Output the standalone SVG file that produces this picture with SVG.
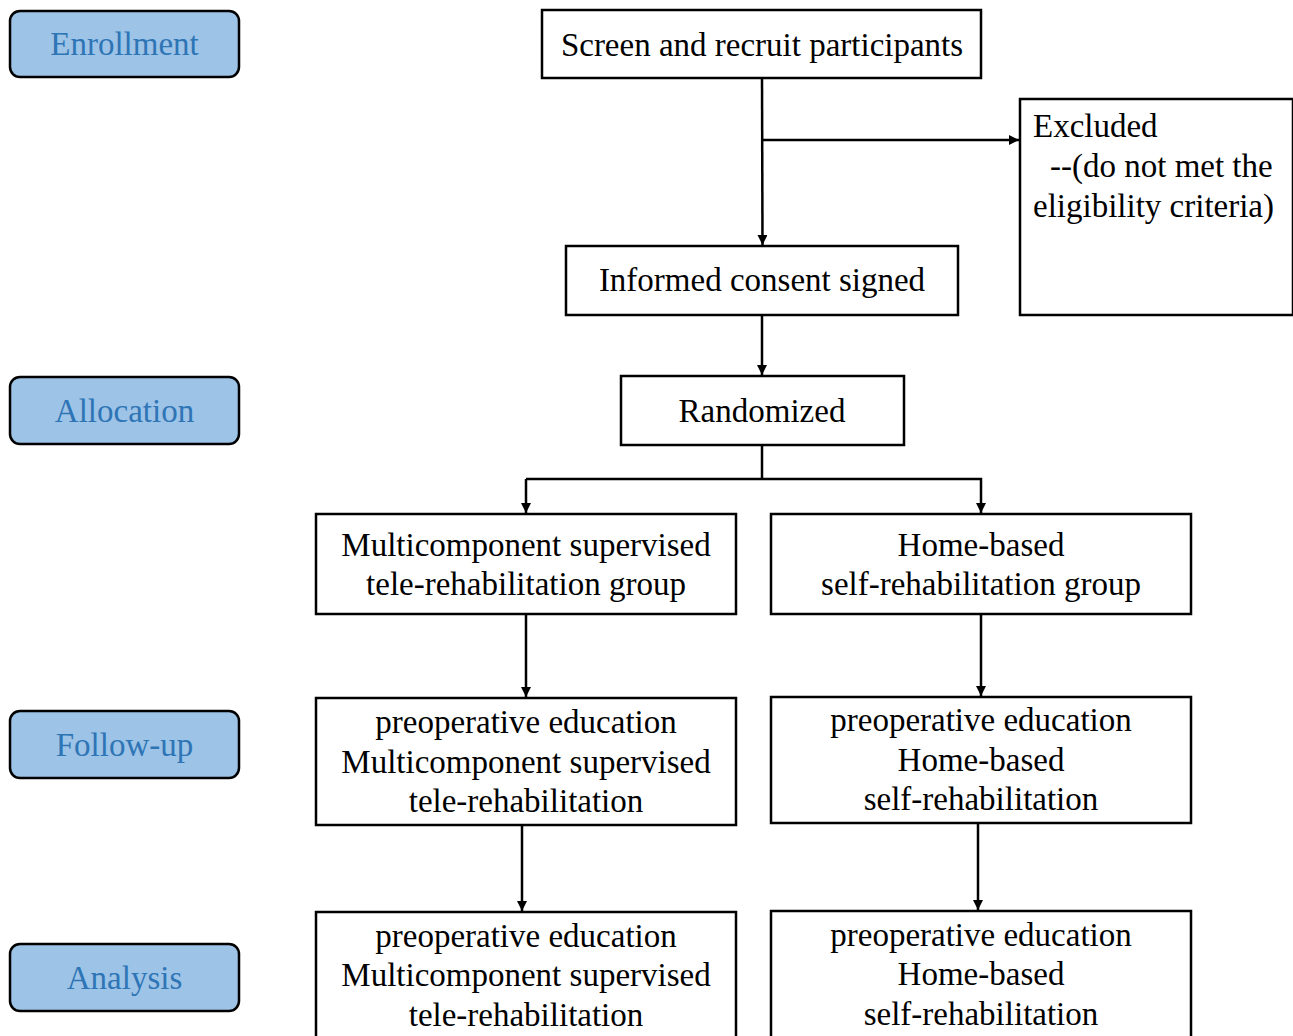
<svg xmlns="http://www.w3.org/2000/svg" width="1293" height="1036" viewBox="0 0 1293 1036">
<style>
.lbl rect{fill:#9DC3E6;stroke:#000;stroke-width:2.5}
.lbl text{font-family:"Liberation Serif","Times New Roman",serif;font-size:33px;fill:#2E75B6;text-anchor:middle}
.box rect{fill:#fff;stroke:#000;stroke-width:2.5}
.box text{font-family:"Liberation Serif","Times New Roman",serif;font-size:33px;fill:#000;text-anchor:middle}
.box text.l{text-anchor:start}
#connectors path{fill:none;stroke:#000;stroke-width:2.5}
</style>
<defs>
<marker id="ah" viewBox="0 0 10 10" refX="10" refY="5" markerWidth="10" markerHeight="10" markerUnits="userSpaceOnUse" orient="auto">
<path d="M0,0 L10,5 L0,10 z" fill="#000"/>
</marker>
</defs>
<rect width="1293" height="1036" fill="#fff"/>
<g id="stage-enrollment" class="lbl"><rect x="10" y="11" width="229" height="66" rx="10"/><text x="124.5" y="55">Enrollment</text></g>
<g id="stage-allocation" class="lbl"><rect x="10" y="377" width="229" height="67" rx="10"/><text x="124.5" y="422">Allocation</text></g>
<g id="stage-followup" class="lbl"><rect x="10" y="711" width="229" height="67" rx="10"/><text x="124.5" y="756">Follow-up</text></g>
<g id="stage-analysis" class="lbl"><rect x="10" y="944" width="229" height="67" rx="10"/><text x="124.5" y="989">Analysis</text></g>

<g id="screen" class="box"><rect x="542" y="10" width="439" height="68"/><text x="762" y="56">Screen and recruit participants</text></g>
<g id="excluded" class="box"><rect x="1020" y="99" width="273" height="216"/>
<text class="l" x="1033" y="137">Excluded</text>
<text class="l" x="1050" y="177">--(do not met the</text>
<text class="l" x="1033" y="217">eligibility criteria)</text></g>
<g id="consent" class="box"><rect x="566" y="246" width="392" height="69"/><text x="762" y="291">Informed consent signed</text></g>
<g id="randomized" class="box"><rect x="621" y="376" width="283" height="69"/><text x="762" y="422">Randomized</text></g>
<g id="group-tele" class="box"><rect x="316" y="514" width="420" height="100"/>
<text x="526" y="556">Multicomponent supervised</text><text x="526" y="595">tele-rehabilitation group</text></g>
<g id="group-home" class="box"><rect x="771" y="514" width="420" height="100"/>
<text x="981" y="556">Home-based</text><text x="981" y="595">self-rehabilitation group</text></g>
<g id="followup-tele" class="box"><rect x="316" y="698" width="420" height="127"/>
<text x="526" y="733">preoperative education</text><text x="526" y="773">Multicomponent supervised</text><text x="526" y="812">tele-rehabilitation</text></g>
<g id="followup-home" class="box"><rect x="771" y="697" width="420" height="126"/>
<text x="981" y="731">preoperative education</text><text x="981" y="771">Home-based</text><text x="981" y="810">self-rehabilitation</text></g>
<g id="analysis-tele" class="box"><rect x="316" y="912" width="420" height="140"/>
<text x="526" y="947">preoperative education</text><text x="526" y="986">Multicomponent supervised</text><text x="526" y="1026">tele-rehabilitation</text></g>
<g id="analysis-home" class="box"><rect x="771" y="911" width="420" height="140"/>
<text x="981" y="946">preoperative education</text><text x="981" y="985">Home-based</text><text x="981" y="1025">self-rehabilitation</text></g>

<g id="connectors">
<path d="M762,78 L762.5,245" marker-end="url(#ah)"/>
<path d="M762,140 L1019,140" marker-end="url(#ah)"/>
<path d="M762,315 L762,375" marker-end="url(#ah)"/>
<path d="M762,445 L762,479"/>
<path d="M526,479 L981,479 L981,513" marker-end="url(#ah)"/>
<path d="M526,479 L526,513" marker-end="url(#ah)"/>
<path d="M526,614 L526,697" marker-end="url(#ah)"/>
<path d="M981,614 L981,696" marker-end="url(#ah)"/>
<path d="M522,825 L522,911" marker-end="url(#ah)"/>
<path d="M978,823 L978,910" marker-end="url(#ah)"/>
</g>
</svg>
